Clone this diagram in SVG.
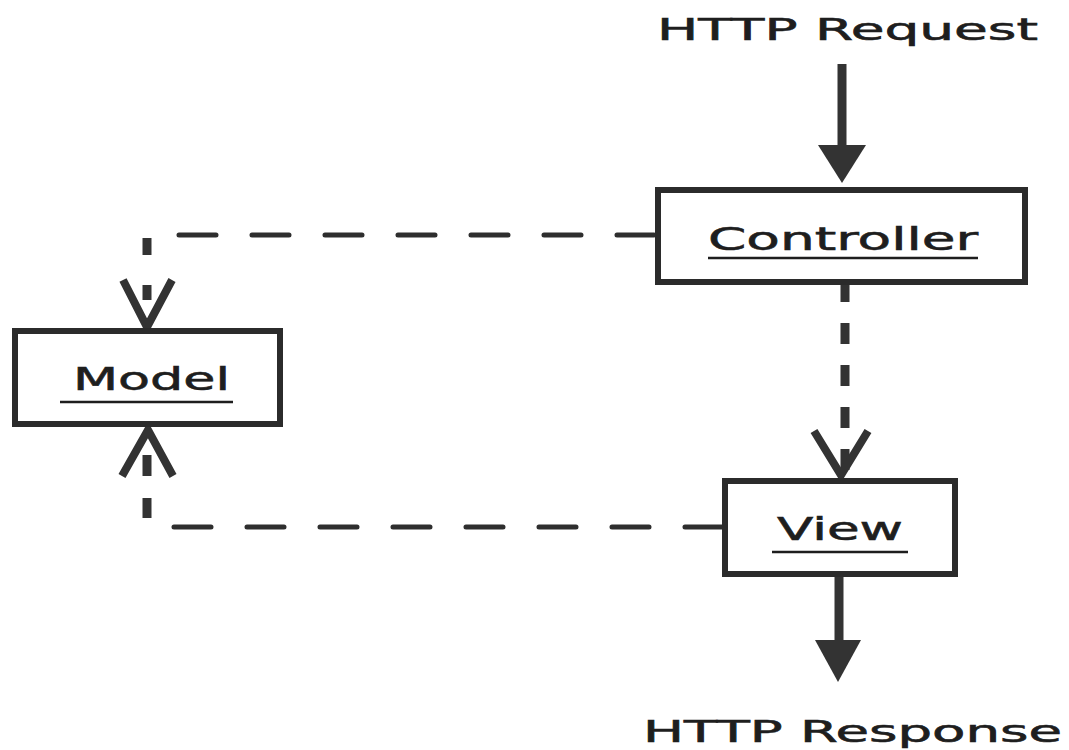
<svg xmlns="http://www.w3.org/2000/svg" width="1069" height="750" viewBox="0 0 1069 750">
  <style>
    .box { fill: #ffffff; stroke: #2b2b2b; stroke-width: 6; }
    .label { font-family: "DejaVu Sans", "Liberation Sans", sans-serif; font-size: 32px; fill: #1e1e1e; stroke: #1e1e1e; stroke-width: 0.6; }
    .io { font-family: "DejaVu Sans", "Liberation Sans", sans-serif; font-size: 30px; fill: #1e1e1e; stroke: #1e1e1e; stroke-width: 0.6; }
    .uline { stroke: #1e1e1e; stroke-width: 2.5; }
    .solid { stroke: #333333; stroke-width: 9; fill: none; }
    .head { fill: #333333; }
    .dash-h { stroke: #2e2e2e; stroke-width: 5; stroke-linecap: round; fill: none; stroke-dasharray: 37 36; }
    .dash-v { stroke: #333333; stroke-width: 9; fill: none; stroke-dasharray: 21 21; }
    .stub { stroke: #333333; stroke-width: 9; fill: none; }
    .chevron { stroke: #333333; stroke-width: 8; fill: none; stroke-linejoin: miter; }
  </style>

  <!-- connectors -->
  <g id="connectors">
    <!-- request into controller -->
    <line class="solid" x1="842" y1="64" x2="842" y2="146"/>
    <polygon class="head" points="818,145 866,145 842,183"/>

    <!-- controller to model (dashed, open arrow) -->
    <line class="dash-h" x1="655" y1="235" x2="178" y2="235" style="stroke-dashoffset:-1"/>
    <line class="stub" x1="147" y1="238" x2="147" y2="255"/>
    <line class="stub" x1="147" y1="285" x2="147" y2="300"/>
    <polyline class="chevron" points="123,280 147,327 172,280"/>

    <!-- controller to view (dashed, open arrow) -->
    <line class="dash-v" x1="845" y1="281" x2="845" y2="472"/>
    <polyline class="chevron" points="814,431 841,475 868,431"/>

    <!-- view to model (dashed, open arrow) -->
    <line class="dash-h" x1="722" y1="527" x2="172" y2="527"/>
    <line class="stub" x1="147" y1="498" x2="147" y2="518"/>
    <line class="stub" x1="147" y1="455" x2="147" y2="476"/>
    <polyline class="chevron" points="122,476 148,430 173,476"/>

    <!-- view out to response -->
    <line class="solid" x1="839" y1="577" x2="839" y2="641"/>
    <polygon class="head" points="815,640 861,640 838,682"/>
  </g>

  <!-- HTTP request label -->
  <g id="http-request">
    <text class="io" x="657" y="40" textLength="381" lengthAdjust="spacingAndGlyphs">HTTP Request</text>
  </g>

  <!-- Controller -->
  <g id="controller">
    <rect class="box" x="658" y="190" width="367" height="92"/>
    <text class="label" x="708" y="250" textLength="270" lengthAdjust="spacingAndGlyphs">Controller</text>
    <line class="uline" x1="708" y1="258" x2="978" y2="258"/>
  </g>

  <!-- Model -->
  <g id="model">
    <rect class="box" x="15" y="331" width="265" height="93"/>
    <text class="label" x="73" y="390" textLength="157" lengthAdjust="spacingAndGlyphs">Model</text>
    <line class="uline" x1="60" y1="402" x2="233" y2="402"/>
  </g>

  <!-- View -->
  <g id="view">
    <rect class="box" x="725" y="481" width="230" height="93"/>
    <text class="label" x="777" y="540" textLength="126" lengthAdjust="spacingAndGlyphs">View</text>
    <line class="uline" x1="772" y1="552" x2="908" y2="552"/>
  </g>

  <!-- HTTP response label -->
  <g id="http-response">
    <text class="io" x="643" y="742" textLength="419" lengthAdjust="spacingAndGlyphs">HTTP Response</text>
  </g>
</svg>
